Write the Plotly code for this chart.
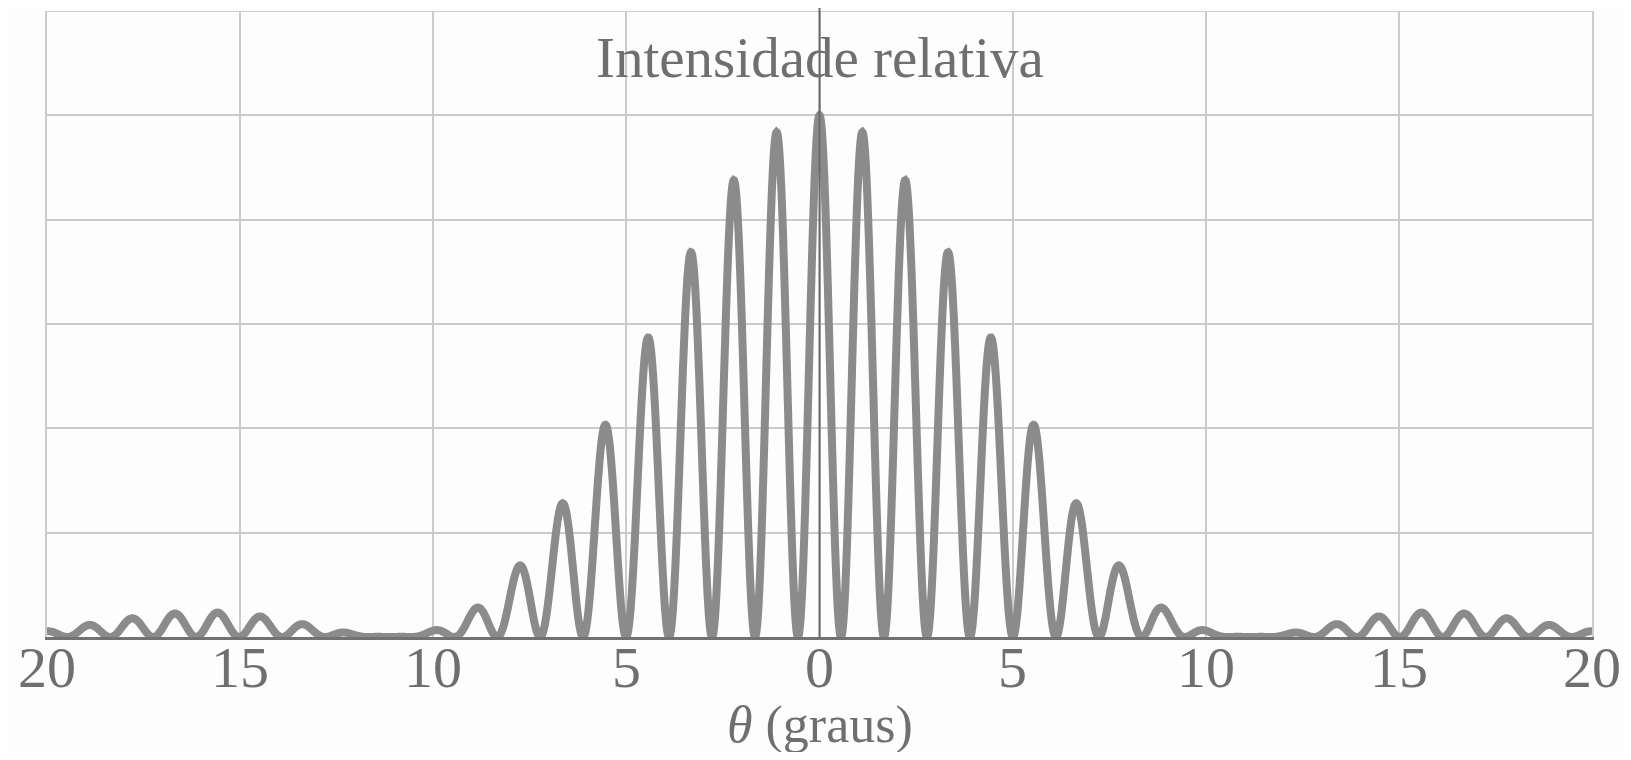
import numpy as np
import plotly.graph_objects as go

# Values
theta_min, theta_max = -20.0, 20.0          # degrees
fringe_spacing_deg = 1.113                   # spacing of interference fringes
slit_ratio = 10.0                            # d / a  (envelope zero at 10 fringes)
x_tick_vals = [-20, -15, -10, -5, 0, 5, 10, 15, 20]
x_tick_text = ["20", "15", "10", "5", "0", "5", "10", "15", "20"]
y_grid_vals = [0, 0.2, 0.4, 0.6, 0.8, 1.0, 1.2]
title_text = "Intensidade relativa"
xlabel_text = "<i>θ</i> (graus)"

theta = np.linspace(theta_min, theta_max, 4001)
alpha = np.pi * theta / fringe_spacing_deg
beta = alpha / slit_ratio
intensity = np.cos(alpha) ** 2 * np.sinc(beta / np.pi) ** 2

curve_color = "#8b8b8b"
grid_color = "#cbcbcb"
text_color = "#6f6f6f"
serif = "Liberation Serif, Times New Roman, serif"

fig = go.Figure()
fig.add_trace(go.Scatter(x=theta, y=intensity, mode="lines",
                         line=dict(color=curve_color, width=8, simplify=False),
                         hoverinfo="skip", showlegend=False))

annotations = [
    dict(text=title_text, x=0, xref="x", y=0.9265, yref="paper",
         xanchor="center", yanchor="middle", showarrow=False,
         font=dict(family=serif, size=57, color=text_color)),
    dict(text=xlabel_text, x=0.5, xref="paper", y=-0.1405, yref="paper",
         xanchor="center", yanchor="middle", showarrow=False,
         font=dict(family=serif, size=52, color=text_color)),
]
for tv, tt in zip(x_tick_vals, x_tick_text):
    annotations.append(dict(text=tt, x=tv, xref="x", y=-0.0495, yref="paper",
                            xanchor="center", yanchor="middle", showarrow=False,
                            font=dict(family=serif, size=58, color=text_color)))

fig.update_layout(
    width=1615, height=744,
    margin=dict(l=39, r=31, t=3, b=115),
    paper_bgcolor="#fdfdfd", plot_bgcolor="#fdfdfd",
    xaxis=dict(range=[theta_min, theta_max], tickmode="array",
               tickvals=x_tick_vals, showticklabels=False,
               showgrid=True, gridcolor=grid_color, gridwidth=2,
               zeroline=False, showline=True, linecolor="#727272", linewidth=3,
               ticks=""),
    yaxis=dict(range=[0, 1.2], tickmode="array", tickvals=y_grid_vals,
               showticklabels=False, showgrid=True, gridcolor=grid_color,
               gridwidth=2, zeroline=False, showline=True, mirror=True,
               linecolor=grid_color, linewidth=2, ticks=""),
    shapes=[
        dict(type="line", xref="paper", yref="y", x0=0, x1=1, y0=1.2, y1=1.2,
             line=dict(color=grid_color, width=2), layer="below"),
        dict(type="line", xref="x", yref="paper", x0=0, x1=0, y0=0, y1=1.006,
             line=dict(color="#6a6a6a", width=2), layer="above"),
    ],
    annotations=annotations,
)

fig.write_html("out.html")
